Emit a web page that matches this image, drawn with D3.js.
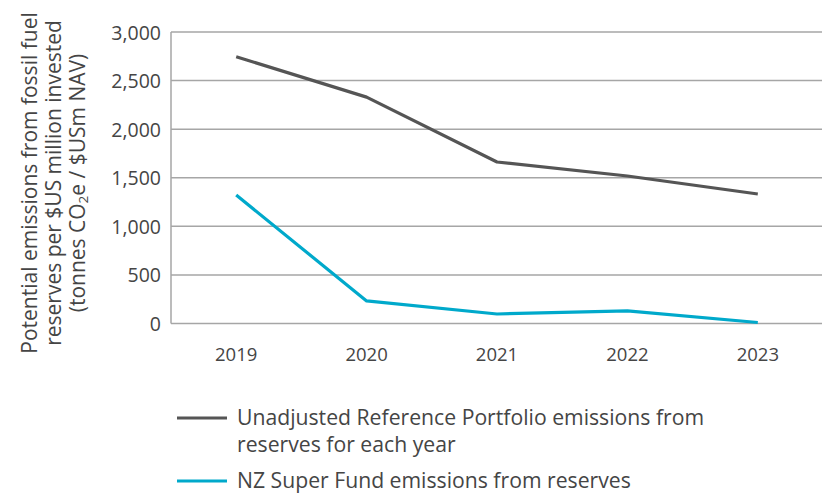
<!DOCTYPE html>
<html><head><meta charset="utf-8">
<script src="https://cdn.jsdelivr.net/npm/d3@7"></script>
<style>body{margin:0;background:#fff;} text{font-family:"Open Sans",sans-serif;fill:#454545;font-weight:500;}</style>
</head><body><svg id="c" width="827" height="495"></svg>
<script>
const years = ["2019","2020","2021","2022","2023"];
const referenceValues = [2745, 2330, 1662, 1518, 1333];
const fundValues = [1322, 232, 98, 129, 10];
const yTicks = [0, 500, 1000, 1500, 2000, 2500, 3000];
const seriesNames = ["Unadjusted Reference Portfolio emissions from|reserves for each year", "NZ Super Fund emissions from reserves"];
const colors = ["#555555", "#00a9cb"];

(function () {
const svg = d3.select("#c");
const pL = 171, pR = 823, pT = 32, pB = 323.5;
const x = d3.scaleBand().domain(years).range([pL, pR]).paddingInner(0).paddingOuter(0);
const y = d3.scaleLinear().domain([0, 3000]).range([pB, pT]);

svg.append("g").selectAll("line").data(yTicks).join("line")
  .attr("x1", pL).attr("x2", 822).attr("y1", d => y(d)).attr("y2", d => y(d))
  .attr("stroke", "#a6a6a6").attr("stroke-width", 1.5);
svg.append("line").attr("x1", pL).attr("x2", pL).attr("y1", y(3000)).attr("y2", y(0))
  .attr("stroke", "#a6a6a6").attr("stroke-width", 1.5);

const yAxis = d3.axisLeft(y).tickValues(yTicks).tickFormat(d3.format(",")).tickSize(0).tickPadding(10);
const ya = svg.append("g").attr("transform", `translate(${pL},0)`).call(yAxis);
ya.select(".domain").remove();
ya.selectAll("text").attr("font-size", 19.5).attr("font-family", "Open Sans").attr("fill", "#454545").attr("dy", "0.36em");

const xAxis = d3.axisBottom(x).tickSize(0).tickPadding(24);
const xa = svg.append("g").attr("transform", `translate(0,${pB})`).call(xAxis);
xa.select(".domain").remove();
xa.selectAll("text").attr("font-size", 18.5).attr("font-family", "Open Sans").attr("fill", "#454545");

const line = d3.line().x((d, i) => x(years[i]) + x.bandwidth() / 2).y(d => y(d));
[referenceValues, fundValues].forEach((vals, k) => {
  svg.append("path").datum(vals).attr("d", line).attr("fill", "none")
    .attr("stroke", colors[k]).attr("stroke-width", 3.2).attr("stroke-linejoin", "round");
});

const title = svg.append("text").attr("transform", "translate(0,183) rotate(-90)")
  .attr("text-anchor", "middle").attr("font-size", 21);
title.append("tspan").attr("x", 0).attr("y", 37).text("Potential emissions from fossil fuel");
title.append("tspan").attr("x", 0).attr("y", 61).text("reserves per $US million invested");
title.append("tspan").attr("x", 0).attr("y", 85).text("(tonnes CO");
title.append("tspan").attr("font-size", 13.5).attr("dy", 3).text("2");
title.append("tspan").attr("dy", -3).text("e / $USm NAV)");

const legY = [418, 481];
seriesNames.forEach((name, k) => {
  svg.append("line").attr("x1", 177).attr("x2", 227).attr("y1", legY[k]).attr("y2", legY[k])
    .attr("stroke", colors[k]).attr("stroke-width", 3.2);
  const parts = name.split("|");
  const t = svg.append("text").attr("font-size", 21.2);
  parts.forEach((p, j) => t.append("tspan").attr("x", 237).attr("y", legY[k] + 7 + j * 27).text(p));
});
})();
</script></body></html>
